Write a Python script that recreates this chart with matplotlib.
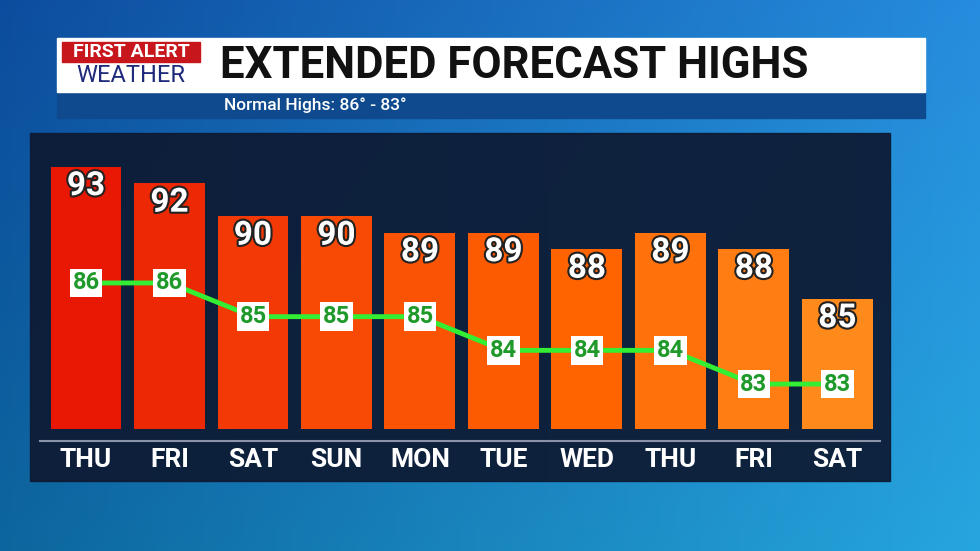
import numpy as np
import matplotlib
matplotlib.use("Agg")
import matplotlib.pyplot as plt
import matplotlib.patheffects as pe
from matplotlib.patches import Rectangle

days = ["THU", "FRI", "SAT", "SUN", "MON", "TUE", "WED", "THU", "FRI", "SAT"]
highs = [93, 92, 90, 90, 89, 89, 88, 89, 88, 85]
normals = [86, 86, 85, 85, 85, 84, 84, 84, 83, 83]
title = "EXTENDED FORECAST HIGHS"
subtitle = "Normal Highs: 86° - 83°"

plt.rcParams['font.family'] = ['Roboto', 'DejaVu Sans']
W, H = 980, 551
fig = plt.figure(figsize=(W/100, H/100), dpi=100)

# background
bg = fig.add_axes([0, 0, 1, 1])
yy, xx = np.mgrid[0:1:200j, 0:1:300j]
r = 0.05 + 0.10*xx
g = 0.30 + 0.25*xx + 0.10*yy
b = 0.62 + 0.25*xx
bg.imshow(np.dstack([r, g, b]).clip(0, 1), extent=[0, W, H, 0], aspect='auto')
bg.set_xlim(0, W); bg.set_ylim(H, 0); bg.axis('off')
bg.add_patch(Rectangle((30, 133), 860, 348, color='#0d1a33', alpha=0.93))
bg.add_patch(Rectangle((57, 92), 868, 26, color='#0f4a8f'))
bg.add_patch(Rectangle((57, 38), 868, 54, color='white'))
bg.add_patch(Rectangle((62, 42), 138, 20, color='#c8161d'))
bg.text(131, 52, "FIRST ALERT", color='white', fontsize=14, fontweight='bold', ha='center', va='center')
bg.text(131, 75, "WEATHER", color='#1f2a7a', fontsize=17, ha='center', va='center')
bg.text(220, 66, title, color='#111111', fontsize=31.5, fontweight='bold', va='center')
bg.text(224, 105, subtitle, color='white', fontsize=12.5, fontweight='medium', va='center')

def fx(px): return px / W
def fy(py): return 1 - py / H
ax = fig.add_axes([fx(40), fy(441), fx(880) - fx(40), fy(133) - fy(441)])
ax.patch.set_alpha(0)
x = np.arange(len(days))
colors = plt.cm.colors.LinearSegmentedColormap.from_list('c', ['#e81805', '#f84a05', '#ff6400', '#ff8a1c'])(np.linspace(0, 1, len(days)))
base = 77.1
ax.bar(x, [h - base for h in highs], bottom=base, width=0.85, color=colors)
ax.set_xlim(-0.551, 9.51)
ax.set_ylim(76.4, 95.05)
for xi, h in zip(x, highs):
    ax.text(xi, h - 0.2, str(h), ha='center', va='top', color='white', fontsize=24, fontweight='bold',
            path_effects=[pe.withStroke(linewidth=3, foreground='#222')])
ax.set_xticks(x)
ax.set_xticklabels(days, color='white', fontsize=19, fontweight='bold')
ax.tick_params(axis='x', length=0, pad=5)
ax.set_yticks([])
for s in ['top', 'left', 'right']:
    ax.spines[s].set_visible(False)
ax.spines['bottom'].set_color('#8a93a8')
ax.spines['bottom'].set_linewidth(1.5)

ax2 = ax.twinx()
ax2.set_ylim(81.31, 90.45)
ax2.plot(x, normals, color='#33ee33', lw=3.5, zorder=3)
for xi, n in zip(x, normals):
    ax2.text(xi, n, str(n), ha='center', va='center', color='#1f9a2a', fontsize=17, fontweight='bold', zorder=4,
             bbox=dict(boxstyle='square,pad=0.12', fc='white', ec='none'))
ax2.set_yticks([])
for s in ax2.spines.values():
    s.set_visible(False)

fig.savefig("out.png", dpi=100)
